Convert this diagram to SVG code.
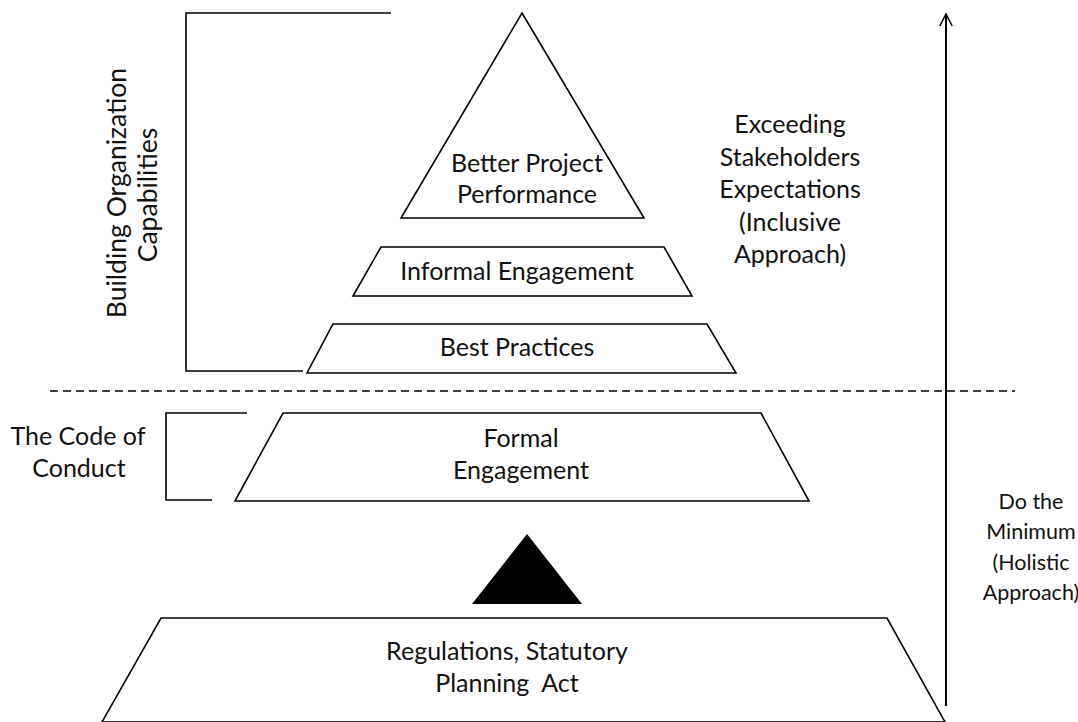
<svg xmlns="http://www.w3.org/2000/svg" width="1078" height="722" viewBox="0 0 1078 722">
<style>
.s{fill:none;stroke:#000;stroke-width:1.6;stroke-linejoin:miter}
.w{fill:#fff;stroke:#000;stroke-width:1.6}
text{font-family:Lato,"Liberation Sans",sans-serif;font-size:25px;fill:#111;text-anchor:middle}
.sm{font-size:21.5px}
.vt{font-size:26.5px}
</style>
<defs>
<marker id="ah" viewBox="0 0 14 14" refX="13" refY="7" markerWidth="14" markerHeight="14" markerUnits="userSpaceOnUse" orient="auto">
<path d="M1,0.8 L13,7 L1,13.2" fill="none" stroke="#000" stroke-width="1.6"/>
</marker>
</defs>
<rect width="1078" height="722" fill="#fff"/>
<g id="connectors">
<path class="s" d="M391,13 H186 V371 H303"/>
<path class="s" d="M247,413 H166 V500 H212"/>
<line x1="50" y1="391" x2="1015" y2="391" stroke="#000" stroke-width="1.4" stroke-dasharray="8,5"/>
<line x1="946" y1="706" x2="946" y2="14" stroke="#000" stroke-width="2" marker-end="url(#ah)"/>
</g>
<g id="better-project">
<polygon class="w" points="522,13 644,218 401,218"/>
<text x="527" y="172">Better Project</text>
<text x="527" y="203">Performance</text>
</g>
<g id="informal">
<polygon class="w" points="381,247 664,247 692,296 353,296"/>
<text x="517" y="280">Informal Engagement</text>
</g>
<g id="best-practices">
<polygon class="w" points="333,324 707,324 736,373 307,373"/>
<text x="517" y="356">Best Practices</text>
</g>
<g id="formal">
<polygon class="w" points="283,413 761,413 809,501 235,501"/>
<text x="521" y="447">Formal</text>
<text x="521" y="479">Engagement</text>
</g>
<g id="black-triangle">
<polygon points="527,534 582,604 472,604" fill="#000"/>
</g>
<g id="regulations">
<polygon class="w" points="161,618 887,618 945,722 102,722"/>
<text x="507" y="660">Regulations, Statutory</text>
<text x="507" y="692" xml:space="preserve" style="white-space:pre">Planning  Act</text>
</g>
<g id="code-of-conduct">
<text x="78" y="445">The Code of</text>
<text x="79" y="477">Conduct</text>
</g>
<g id="building">
<text class="vt" transform="translate(126,193) rotate(-90)">Building Organization</text>
<text class="vt" transform="translate(157,195) rotate(-90)">Capabilities</text>
</g>
<g id="exceeding">
<text x="790" y="133">Exceeding</text>
<text x="790" y="165.5">Stakeholders</text>
<text x="790" y="198">Expectations</text>
<text x="790" y="230.5">(Inclusive</text>
<text x="790" y="263">Approach)</text>
</g>
<g id="do-minimum">
<text class="sm" x="1031" y="509">Do the</text>
<text class="sm" x="1031" y="539">Minimum</text>
<text class="sm" x="1031" y="570">(Holistic</text>
<text class="sm" x="1031" y="600">Approach)</text>
</g>
</svg>
